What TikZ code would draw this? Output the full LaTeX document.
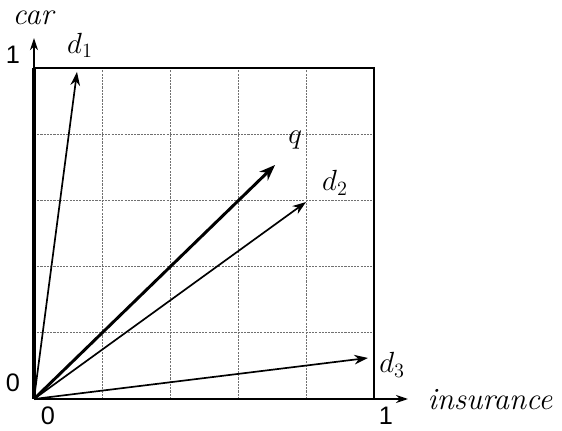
\documentclass[tikz,border=0pt]{standalone}
\usepackage{fontspec}
\usepackage{tikz}
\usetikzlibrary{arrows.meta, positioning, calc}
\newfontfamily\digitfont{Liberation Sans}
\definecolor{GridGray}{HTML}{707070}

\begin{document}
\begin{tikzpicture}[
    x=8.5cm, y=8.275cm,
    gridline/.style={GridGray, line width=0.5pt, dash pattern=on 1.5pt off 0.8pt},
    frame/.style={line width=1.4pt, color=black},
    axisarr/.style={-{Stealth[length=3mm, width=2mm]}, line width=0.9pt},
    vec/.style={-{Stealth[length=3.4mm, width=2.4mm]}, line width=1.2pt},
    qvec/.style={-{Stealth[length=4mm, width=3mm]}, line width=2.1pt},
    lbl/.style={font=\fontsize{22}{26}\selectfont, inner sep=0pt},
    num/.style={font=\fontsize{18}{22}\selectfont\digitfont, inner sep=0pt}
  ]
    \useasboundingbox (-0.1,-0.0937) rectangle (1.5529,1.2054);

    % grid
    \foreach \k in {0.2,0.4,0.6,0.8} {
      \draw[gridline] (\k,0) -- (\k,1);
      \draw[gridline] (0,\k) -- (1,\k);
    }

    \coordinate (O) at (0,0);
    \coordinate (xend) at (1.1,0);
    \coordinate (yend) at (0,1.09);
    \coordinate (d1tip) at (0.1265,0.988);
    \coordinate (qtip) at (0.709,0.707);
    \coordinate (d2tip) at (0.8,0.595);
    \coordinate (d3tip) at (0.982,0.124);

    % box and axes
    \draw[frame] (0,1) -- (1,1) -- (1,0);
    \draw[axisarr] (O) -- (yend);
    \draw[axisarr, line width=1.4pt] (O) -- (xend);
    \draw[line width=3pt] (O) -- (0,1);

    % vectors
    \draw[vec] (O) -- (d1tip);
    \draw[qvec] (O) -- (qtip);
    \draw[vec] (O) -- (d2tip);
    \draw[vec] (O) -- (d3tip);

    % labels
    \node[lbl] (carlbl) at (-0.003,1.151) {\itshape car};
    \node[lbl] (inslbl) at (1.341,-0.003) {\itshape insurance};
    \node[lbl] (d1lbl) at (0.135,1.069) {$d_1$};
    \node[lbl] (qlbl) at (0.768,0.782) {$q$};
    \node[lbl] (d2lbl) at (0.885,0.653) {$d_2$};
    \node[lbl] (d3lbl) at (1.053,0.103) {$d_3$};
    \node[num] (yone) at (-0.062,1.039) {1};
    \node[num] (yzero) at (-0.062,0.048) {0};
    \node[num] (xzero) at (0.041,-0.051) {0};
    \node[num] (xone) at (1.035,-0.051) {1};
  \end{tikzpicture}
\end{document}
